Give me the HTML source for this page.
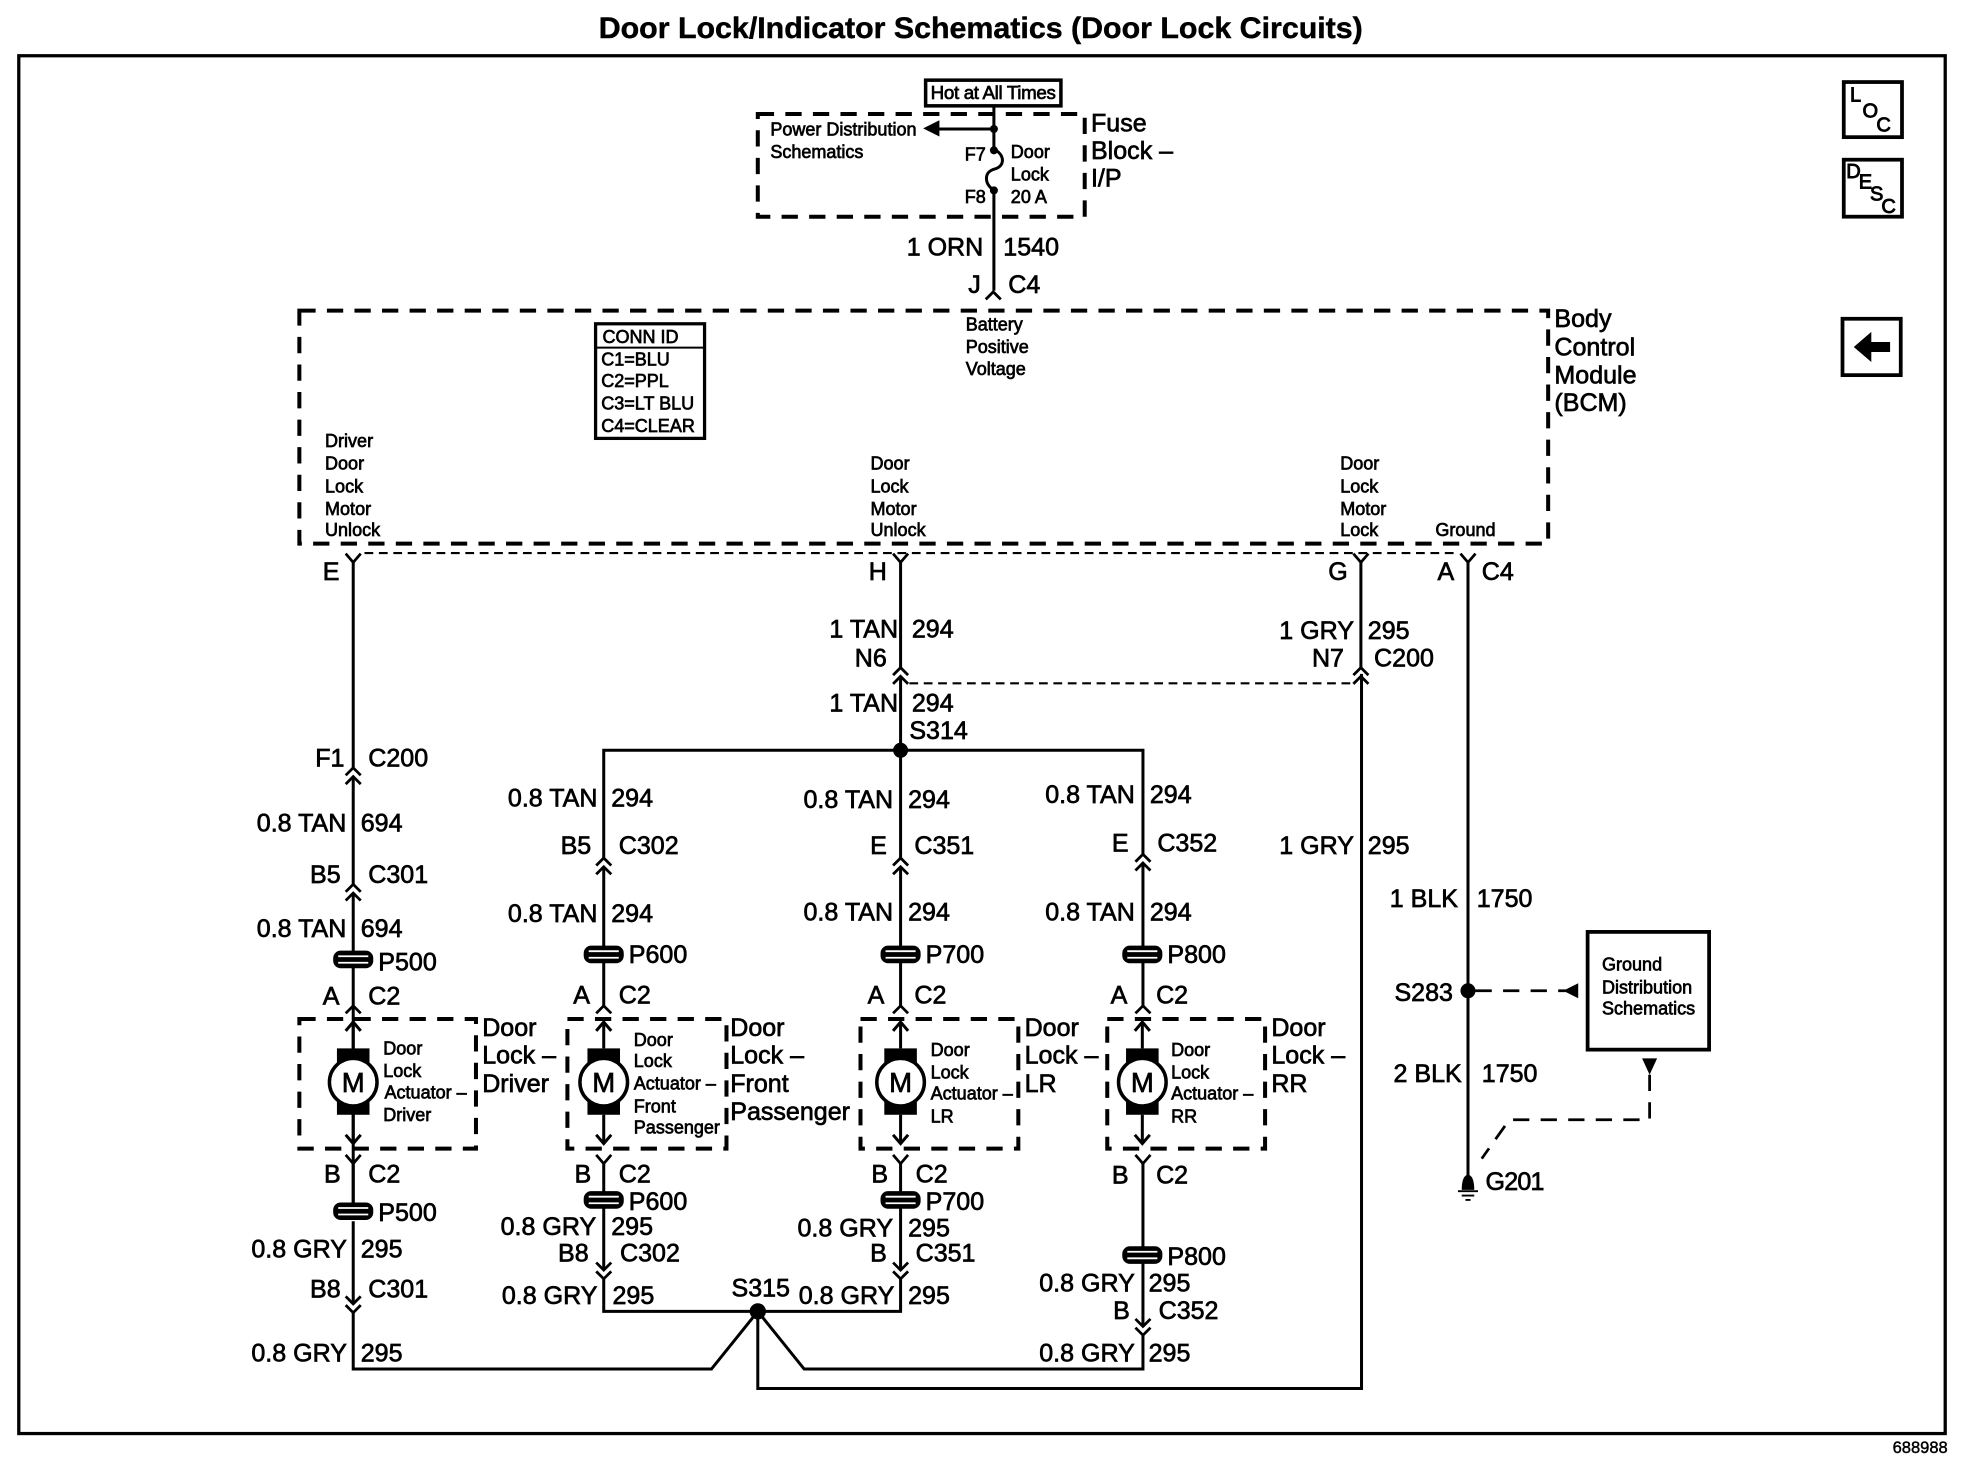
<!DOCTYPE html>
<html>
<head>
<meta charset="utf-8">
<title>Door Lock/Indicator Schematics</title>
<style>
html,body{margin:0;padding:0;background:#fff;}
svg{display:block;}
text{font-family:"Liberation Sans",Arial,sans-serif;fill:#000;stroke:#000;}
.t{font-size:20px;stroke-width:.55px;}
.s{font-size:14.4px;stroke-width:.55px;}
.i{font-size:16px;stroke-width:.7px;}
.e{text-anchor:end;}
.w{fill:none;stroke:#000;stroke-width:2.4;}
.d{fill:none;stroke:#000;stroke-width:3.2;stroke-dasharray:13 9;}
.f{fill:none;stroke:#000;stroke-width:1.7;stroke-dasharray:7 4.5;}
.g{fill:none;stroke:#000;stroke-width:2.2;stroke-dasharray:13 9;}
</style>
</head>
<body>
<svg xmlns="http://www.w3.org/2000/svg" width="1964" height="1472" viewBox="0 0 1568 1175.2">
<defs>
<path id="up" d="M-6 6L0 0L6 6M-6 13L0 7L6 13" fill="none" stroke="#000" stroke-width="2.2"/>
<path id="dn" d="M-6 -6L0 0L6 -6M-6 1L0 7L6 1" fill="none" stroke="#000" stroke-width="2.2"/>
<path id="yf" d="M-6 -7L0 0L6 -7" fill="none" stroke="#000" stroke-width="2.2"/>
<path id="ac" d="M-6 6L0 0L6 6" fill="none" stroke="#000" stroke-width="2.2"/>
<g id="pp"><rect x="-16" y="-7" width="32" height="14" rx="6" fill="#000"/><path d="M-12 -2.6H12M-12 2.6H12" stroke="#fff" stroke-width="1.4"/></g>
<g id="mo">
<rect x="-13" y="-27" width="26" height="53" fill="#000"/>
<circle r="19" fill="#fff" stroke="#000" stroke-width="2.8"/>
<path d="M0 -27V-47M0 26V48" class="w"/>
<path d="M-6 -41L0 -48L6 -41M-6 42L0 49L6 42" class="w"/>
</g>
</defs>

<rect width="1568" height="1175.2" fill="#fff"/>
<text x="478" y="30.5" style="font-size:24px;font-weight:bold;stroke-width:.35px" textLength="610" lengthAdjust="spacingAndGlyphs">Door Lock/Indicator Schematics (Door Lock Circuits)</text>
<rect x="15" y="44.5" width="1538" height="1100" fill="none" stroke="#000" stroke-width="2.6"/>

<!-- side icons -->
<rect x="1472" y="65.5" width="46.5" height="44" fill="#fff" stroke="#000" stroke-width="3"/>
<text x="1477" y="81" class="i">L</text>
<text x="1487" y="94" class="i">O</text>
<text x="1498" y="105" class="i">C</text>
<rect x="1472" y="127.5" width="46.5" height="45.5" fill="#fff" stroke="#000" stroke-width="3"/>
<text x="1474" y="142" class="i">D</text>
<text x="1484" y="150.5" class="i">E</text>
<text x="1493" y="160" class="i">S</text>
<text x="1502" y="170" class="i">C</text>
<rect x="1471" y="254.5" width="46.5" height="45" fill="#fff" stroke="#000" stroke-width="3"/>
<path d="M1480 277L1494 265V273H1509V281H1494V289Z" fill="#000"/>

<!-- fuse block -->
<rect x="739" y="64" width="108" height="20.5" fill="#fff" stroke="#000" stroke-width="2.8"/>
<text x="743" y="79" class="s" style="font-size:15px" textLength="100">Hot at All Times</text>
<rect x="605" y="91" width="261" height="82" class="d"/>
<path d="M793.5 85V119M793.5 152V232" class="w"/>
<path d="M793.5 119C803 124 802 133 794 135C786 137 785 146 793.5 152" class="w"/>
<circle cx="793.5" cy="103" r="3.2"/>
<circle cx="793.5" cy="120" r="3.2"/>
<circle cx="793.5" cy="152" r="3.2"/>
<path d="M793 103H748" class="w"/>
<path d="M737 102.5L750 96V109Z" fill="#000"/>
<use href="#ac" x="793" y="233"/>
<text x="615" y="108" class="s">Power Distribution</text>
<text x="615" y="126" class="s">Schematics</text>
<text x="787" y="128" class="s e">F7</text>
<text x="787" y="162" class="s e">F8</text>
<text x="807" y="126" class="s">Door</text>
<text x="807" y="144" class="s">Lock</text>
<text x="807" y="162" class="s">20 A</text>
<text x="871" y="105" class="t">Fuse</text>
<text x="871" y="127" class="t">Block –</text>
<text x="871" y="149" class="t">I/P</text>
<text x="785" y="204" class="t e">1 ORN</text>
<text x="801" y="204" class="t">1540</text>
<text x="783" y="234" class="t e">J</text>
<text x="805" y="234" class="t">C4</text>

<!-- BCM -->
<rect x="239" y="248" width="997" height="186" class="d"/>
<text x="1241" y="261" class="t">Body</text>
<text x="1241" y="284" class="t">Control</text>
<text x="1241" y="306" class="t">Module</text>
<text x="1241" y="328" class="t">(BCM)</text>
<rect x="475.5" y="258.5" width="87" height="91.5" fill="#fff" stroke="#000" stroke-width="2.6"/>
<path d="M476 277.5H562" stroke="#000" stroke-width="1.6"/>
<text x="481" y="274" class="s">CONN ID</text>
<text x="480" y="292" class="s">C1=BLU</text>
<text x="480" y="309" class="s">C2=PPL</text>
<text x="480" y="327" class="s">C3=LT BLU</text>
<text x="480" y="345" class="s">C4=CLEAR</text>
<text x="771" y="264" class="s">Battery</text>
<text x="771" y="282" class="s">Positive</text>
<text x="771" y="299.5" class="s">Voltage</text>
<text x="259.5" y="357" class="s">Driver</text>
<text x="259.5" y="375" class="s">Door</text>
<text x="259.5" y="393" class="s">Lock</text>
<text x="259.5" y="411" class="s">Motor</text>
<text x="259.5" y="428" class="s">Unlock</text>
<text x="695" y="375" class="s">Door</text>
<text x="695" y="393" class="s">Lock</text>
<text x="695" y="411" class="s">Motor</text>
<text x="695" y="428" class="s">Unlock</text>
<text x="1070" y="375" class="s">Door</text>
<text x="1070" y="393" class="s">Lock</text>
<text x="1070" y="411" class="s">Motor</text>
<text x="1070" y="428" class="s">Lock</text>
<text x="1146" y="428" class="s">Ground</text>

<!-- dashed shared lines -->
<path d="M291 441.5H1162" class="f"/>
<path d="M726 545.5H1079" class="f"/>

<!-- wires -->
<path d="M282 449V613M282 620V706M282 713V960M282 975V1041" class="w"/>
<path d="M282 929V960" class="w"/>
<path d="M282 1048V1093H568L605 1047L642 1093H912.5V1066" class="w"/>
<path d="M605 1047V1108.5H1087V538" class="w"/>
<path d="M1086.5 449V533" class="w"/>
<path d="M719 449V533M719 540V685M719 692V803" class="w"/>
<path d="M482 685V599H912.5V682" class="w"/>
<path d="M482 692V803" class="w"/>
<path d="M912.5 689V803" class="w"/>
<path d="M482 929V1014M482 1021V1047H719V1021M719 929V1014" class="w"/>
<path d="M912.5 929V1059" class="w"/>
<path d="M1172 449V945" class="w"/>

<!-- top forks -->
<use href="#yf" x="282" y="449"/>
<use href="#yf" x="719" y="449"/>
<use href="#yf" x="1086.5" y="449"/>
<use href="#yf" x="1172" y="449"/>

<!-- inline connectors -->
<use href="#up" x="719" y="533"/>
<use href="#up" x="1086.5" y="533"/>
<use href="#up" x="282" y="613"/>
<use href="#up" x="282" y="706"/>
<use href="#up" x="482" y="685"/>
<use href="#up" x="719" y="685"/>
<use href="#up" x="912.5" y="682"/>
<use href="#ac" x="282" y="803"/>
<use href="#ac" x="482" y="803"/>
<use href="#ac" x="719" y="803"/>
<use href="#ac" x="912.5" y="803"/>
<use href="#yf" x="282" y="929"/>
<use href="#yf" x="482" y="929"/>
<use href="#yf" x="719" y="929"/>
<use href="#yf" x="912.5" y="929"/>
<use href="#dn" x="282" y="1041"/>
<use href="#dn" x="482" y="1014"/>
<use href="#dn" x="719" y="1014"/>
<use href="#dn" x="912.5" y="1059"/>

<!-- P connectors -->
<use href="#pp" x="282" y="766"/>
<use href="#pp" x="482" y="762"/>
<use href="#pp" x="719" y="762"/>
<use href="#pp" x="912" y="762"/>
<use href="#pp" x="282" y="967"/>
<use href="#pp" x="482" y="958"/>
<use href="#pp" x="719" y="958"/>
<use href="#pp" x="912" y="1002"/>

<!-- splices -->
<circle cx="719" cy="599" r="6"/>
<circle cx="605" cy="1047" r="6.5"/>
<circle cx="1172" cy="791" r="6"/>

<!-- actuator boxes -->
<rect x="239" y="813.5" width="141" height="103.5" class="d"/>
<rect x="453" y="813.5" width="127" height="103.5" class="d"/>
<rect x="687" y="813.5" width="126" height="103.5" class="d"/>
<rect x="884" y="813.5" width="126" height="103.5" class="d"/>
<use href="#mo" x="282" y="864"/>
<use href="#mo" x="482" y="864"/>
<use href="#mo" x="719" y="864"/>
<use href="#mo" x="912" y="864"/>
<text x="282" y="872" class="t" text-anchor="middle" style="font-size:22px">M</text>
<text x="482" y="872" class="t" text-anchor="middle" style="font-size:22px">M</text>
<text x="719" y="872" class="t" text-anchor="middle" style="font-size:22px">M</text>
<text x="912" y="872" class="t" text-anchor="middle" style="font-size:22px">M</text>

<text x="306" y="842" class="s">Door</text>
<text x="306" y="860" class="s">Lock</text>
<text x="307" y="877" class="s">Actuator –</text>
<text x="306" y="895" class="s">Driver</text>
<text x="506" y="835" class="s">Door</text>
<text x="506" y="852" class="s">Lock</text>
<text x="506" y="870" class="s">Actuator –</text>
<text x="506" y="888" class="s">Front</text>
<text x="506" y="905" class="s">Passenger</text>
<text x="743" y="843" class="s">Door</text>
<text x="743" y="861" class="s">Lock</text>
<text x="743" y="878" class="s">Actuator –</text>
<text x="743" y="896" class="s">LR</text>
<text x="935" y="843" class="s">Door</text>
<text x="935" y="861" class="s">Lock</text>
<text x="935" y="878" class="s">Actuator –</text>
<text x="935" y="896" class="s">RR</text>

<text x="385" y="827" class="t">Door</text>
<text x="385" y="849" class="t">Lock –</text>
<text x="385" y="872" class="t">Driver</text>
<text x="583" y="827" class="t">Door</text>
<text x="583" y="849" class="t">Lock –</text>
<text x="583" y="872" class="t">Front</text>
<text x="583" y="894" class="t">Passenger</text>
<text x="818" y="827" class="t">Door</text>
<text x="818" y="849" class="t">Lock –</text>
<text x="818" y="872" class="t">LR</text>
<text x="1015" y="827" class="t">Door</text>
<text x="1015" y="849" class="t">Lock –</text>
<text x="1015" y="872" class="t">RR</text>

<!-- top pin labels -->
<text x="271" y="463" class="t e">E</text>
<text x="708" y="463" class="t e">H</text>
<text x="1076" y="463" class="t e">G</text>
<text x="1161" y="463" class="t e">A</text>
<text x="1183" y="463" class="t">C4</text>

<text x="717" y="509" class="t e">1 TAN</text>
<text x="728" y="509" class="t">294</text>
<text x="708" y="532" class="t e">N6</text>
<text x="717" y="568" class="t e">1 TAN</text>
<text x="728" y="568" class="t">294</text>
<text x="726" y="590" class="t">S314</text>
<text x="1081" y="510" class="t e">1 GRY</text>
<text x="1092" y="510" class="t">295</text>
<text x="1073" y="532" class="t e">N7</text>
<text x="1097" y="532" class="t">C200</text>

<!-- driver column -->
<text x="275" y="612" class="t e">F1</text>
<text x="294" y="612" class="t">C200</text>
<text x="276.5" y="664" class="t e">0.8 TAN</text>
<text x="288" y="664" class="t">694</text>
<text x="272" y="705" class="t e">B5</text>
<text x="294" y="705" class="t">C301</text>
<text x="276.5" y="748" class="t e">0.8 TAN</text>
<text x="288" y="748" class="t">694</text>
<text x="302" y="775" class="t">P500</text>
<text x="271" y="802" class="t e">A</text>
<text x="294" y="802" class="t">C2</text>
<text x="272" y="944" class="t e">B</text>
<text x="294" y="944" class="t">C2</text>
<text x="302" y="975" class="t">P500</text>
<text x="277" y="1004" class="t e">0.8 GRY</text>
<text x="288" y="1004" class="t">295</text>
<text x="272" y="1036" class="t e">B8</text>
<text x="294" y="1036" class="t">C301</text>
<text x="277" y="1087" class="t e">0.8 GRY</text>
<text x="288" y="1087" class="t">295</text>

<!-- passenger column -->
<text x="477" y="644" class="t e">0.8 TAN</text>
<text x="488" y="644" class="t">294</text>
<text x="472" y="682" class="t e">B5</text>
<text x="494" y="682" class="t">C302</text>
<text x="477" y="736" class="t e">0.8 TAN</text>
<text x="488" y="736" class="t">294</text>
<text x="502" y="769" class="t">P600</text>
<text x="471" y="801" class="t e">A</text>
<text x="494" y="801" class="t">C2</text>
<text x="472" y="944" class="t e">B</text>
<text x="494" y="944" class="t">C2</text>
<text x="502" y="966" class="t">P600</text>
<text x="476" y="986" class="t e">0.8 GRY</text>
<text x="488" y="986" class="t">295</text>
<text x="470" y="1007" class="t e">B8</text>
<text x="495" y="1007" class="t">C302</text>
<text x="477" y="1041" class="t e">0.8 GRY</text>
<text x="489" y="1041" class="t">295</text>
<text x="584" y="1035" class="t">S315</text>

<!-- LR column -->
<text x="713" y="645" class="t e">0.8 TAN</text>
<text x="725" y="645" class="t">294</text>
<text x="708" y="682" class="t e">E</text>
<text x="730" y="682" class="t">C351</text>
<text x="713" y="735" class="t e">0.8 TAN</text>
<text x="725" y="735" class="t">294</text>
<text x="739" y="769" class="t">P700</text>
<text x="706" y="801" class="t e">A</text>
<text x="730" y="801" class="t">C2</text>
<text x="709" y="944" class="t e">B</text>
<text x="731" y="944" class="t">C2</text>
<text x="739" y="966" class="t">P700</text>
<text x="713" y="987" class="t e">0.8 GRY</text>
<text x="725" y="987" class="t">295</text>
<text x="708" y="1007" class="t e">B</text>
<text x="731" y="1007" class="t">C351</text>
<text x="714" y="1041" class="t e">0.8 GRY</text>
<text x="725" y="1041" class="t">295</text>

<!-- RR column -->
<text x="906" y="641" class="t e">0.8 TAN</text>
<text x="918" y="641" class="t">294</text>
<text x="901" y="680" class="t e">E</text>
<text x="924" y="680" class="t">C352</text>
<text x="906" y="735" class="t e">0.8 TAN</text>
<text x="918" y="735" class="t">294</text>
<text x="932" y="769" class="t">P800</text>
<text x="900" y="801" class="t e">A</text>
<text x="923" y="801" class="t">C2</text>
<text x="901" y="945" class="t e">B</text>
<text x="923" y="945" class="t">C2</text>
<text x="932" y="1010" class="t">P800</text>
<text x="906" y="1031" class="t e">0.8 GRY</text>
<text x="917" y="1031" class="t">295</text>
<text x="902" y="1053" class="t e">B</text>
<text x="925" y="1053" class="t">C352</text>
<text x="906" y="1087" class="t e">0.8 GRY</text>
<text x="917" y="1087" class="t">295</text>

<!-- right side -->
<text x="1081" y="682" class="t e">1 GRY</text>
<text x="1092" y="682" class="t">295</text>
<text x="1164" y="724" class="t e">1 BLK</text>
<text x="1179" y="724" class="t">1750</text>
<text x="1160" y="799" class="t e">S283</text>
<text x="1167" y="864" class="t e">2 BLK</text>
<text x="1183" y="864" class="t">1750</text>
<text x="1186" y="950" class="t" textLength="47">G201</text>

<path d="M1178 791H1250" class="g"/>
<path d="M1248 791L1260 785V797Z" fill="#000"/>
<rect x="1267.5" y="744" width="97" height="94" fill="#fff" stroke="#000" stroke-width="3"/>
<text x="1279" y="775" class="s">Ground</text>
<text x="1279" y="793" class="s">Distribution</text>
<text x="1279" y="810" class="s">Schematics</text>
<path d="M1311 845H1323L1317 858Z" fill="#000"/>
<path d="M1317 858V894H1205L1183 925" class="g"/>
<path d="M1167 950C1167 942 1169 938 1172 938C1175 938 1177 942 1177 950Z" fill="#000"/>
<path d="M1164 951H1180M1167 954.5H1177M1170 958H1174" stroke="#000" stroke-width="1.5"/>

<text x="1511" y="1160" style="font-size:13.2px;stroke-width:.35px">688988</text>
</svg>
</body>
</html>
